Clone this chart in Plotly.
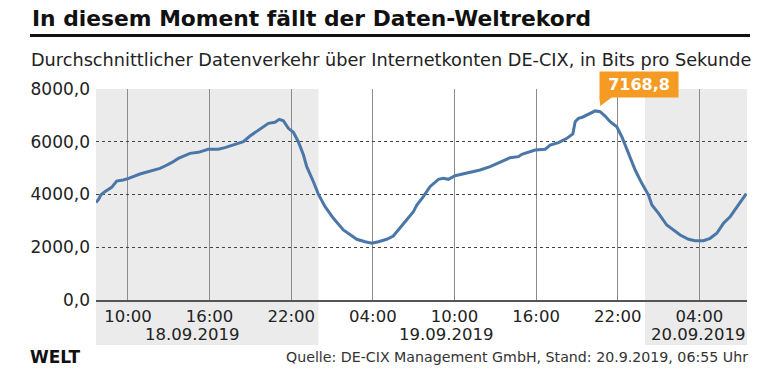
import pandas as pd
import plotly.graph_objects as go

# hours since 18.09.2019 00:00
hours = [7.65, 7.85, 8.0, 8.3, 8.8, 9.17, 9.65, 10.0, 10.88, 11.98, 12.35, 12.72, 13.2, 13.7,
         14.56, 15.17, 15.9, 16.64, 17.13, 17.87, 18.48, 18.97, 19.6, 20.32, 20.8, 21.13,
         21.42, 21.79, 22.16, 22.52, 22.9, 23.14, 23.63, 24.0, 24.49, 25.1, 25.83, 26.32,
         26.82, 27.43, 27.92, 28.4, 29.02, 29.5, 29.87, 30.49, 30.98, 31.23, 31.71, 32.2,
         32.82, 33.18, 33.55, 34.04, 34.65, 35.27, 35.88, 36.62, 37.23, 38.09, 38.7, 38.95,
         39.93, 40.66, 41.03, 41.64, 42.26, 42.7, 42.87, 43.11, 43.4, 43.73, 43.97, 44.35,
         44.7, 45.07, 45.44, 45.93, 46.3, 46.79, 47.28, 47.77, 48.26, 48.51, 49.0, 49.6,
         50.1, 50.59, 51.2, 51.69, 52.3, 52.79, 53.28, 53.77, 54.26, 54.76, 55.37, 55.45]
traffic = [3700, 3820, 3980, 4106, 4272, 4511, 4549, 4600, 4777, 4928, 4992, 5080, 5206, 5370,
           5560, 5599, 5713, 5713, 5775, 5902, 6001, 6217, 6445, 6698, 6736, 6850,
           6797, 6509, 6357, 6001, 5497, 5054, 4485, 4006, 3537, 3097, 2654, 2464,
           2301, 2210, 2149, 2210, 2301, 2426, 2654, 3033, 3350, 3600, 3917, 4296,
           4575, 4613, 4575, 4714, 4777, 4865, 4928, 5054, 5206, 5396, 5434, 5523,
           5687, 5713, 5876, 5964, 6129, 6300, 6761, 6888, 6930, 7013, 7101, 7168.8,
           7139, 6976, 6761, 6570, 6191, 5560, 4928, 4423, 3980, 3601, 3287, 2843,
           2654, 2464, 2301, 2248, 2248, 2339, 2529, 2908, 3158, 3537, 3980, 4030]

x_ticks = ["2019-09-18 10:00", "2019-09-18 16:00", "2019-09-18 22:00", "2019-09-19 04:00",
           "2019-09-19 10:00", "2019-09-19 16:00", "2019-09-19 22:00", "2019-09-20 04:00"]
x_tick_labels = ["10:00", "16:00", "22:00", "04:00", "10:00", "16:00", "22:00", "04:00"]
y_ticks = [0, 2000, 4000, 6000, 8000]
y_tick_labels = ["0,0", "2000,0", "4000,0", "6000,0", "8000,0"]
day_labels = ["18.09.2019", "19.09.2019", "20.09.2019"]
day_label_pos = ["2019-09-18 14:41", "2019-09-19 09:24", "2019-09-20 07:30"]
shaded_days = [("2019-09-18 07:39", "2019-09-19 00:00"), ("2019-09-20 00:00", "2019-09-20 07:30")]
x_range = ["2019-09-18 07:39", "2019-09-20 07:30"]

base = pd.Timestamp("2019-09-18 00:00")
times = [base + pd.Timedelta(hours=h) for h in hours]
peak_i = max(range(len(traffic)), key=lambda i: traffic[i])
peak_t, peak_v = times[peak_i], traffic[peak_i]

FONT = "DejaVu Sans"
fig = go.Figure()
fig.add_trace(go.Scatter(x=times, y=traffic, mode="lines",
                         line=dict(color="#4a77a8", width=3), hoverinfo="skip"))

for x0, x1 in shaded_days:
    fig.add_shape(type="rect", xref="x", yref="paper", x0=x0, x1=x1, y0=-0.213, y1=1,
                  fillcolor="#ebebeb", line_width=0, layer="below")

for lab, pos in zip(day_labels, day_label_pos):
    right = lab == day_labels[-1]
    fig.add_annotation(x=pos, y=-0.163, xref="x", yref="paper", text=lab, showarrow=False,
                       xanchor="right" if right else "center", yanchor="middle",
                       font=dict(family=FONT, size=16.5, color="#222"))

# peak label
fig.add_annotation(x=peak_t, y=peak_v, xref="x", yref="y",
                   text="<b>" + f"{peak_v:.1f}".replace(".", ",") + "</b>",
                   showarrow=False, xanchor="left", yanchor="bottom", xshift=4, yshift=13,
                   bgcolor="#f59a23", font=dict(family=FONT, size=16, color="white"),
                   width=74, height=21, borderpad=2)
fig.add_shape(type="path", xref="x", yref="y", xsizemode="pixel", ysizemode="pixel",
              xanchor=peak_t, yanchor=peak_v, path="M4,14 L17,14 L5,5 Z",
              fillcolor="#f59a23", line_width=0)

# title, rule, subtitle, footer (pixel positions, converted below)
fig.add_annotation(x=30, y=19, xref="paper", yref="paper", text="<b>In diesem Moment fällt der Daten-Weltrekord</b>",
                   showarrow=False, xanchor="left", yanchor="middle",
                   font=dict(family=FONT, size=21.8, color="#111"))
fig.add_annotation(x=29, y=60, xref="paper", yref="paper",
                   text="Durchschnittlicher Datenverkehr über Internetkonten DE-CIX, in Bits pro Sekunde",
                   showarrow=False, xanchor="left", yanchor="middle",
                   font=dict(family=FONT, size=17.7, color="#222"))
fig.add_annotation(x=28, y=357, xref="paper", yref="paper", text="<b>WELT</b>",
                   showarrow=False, xanchor="left", yanchor="middle",
                   font=dict(family=FONT, size=17, color="#111"))
fig.add_annotation(x=750, y=357, xref="paper", yref="paper",
                   text="Quelle: DE-CIX Management GmbH, Stand: 20.9.2019, 06:55 Uhr",
                   showarrow=False, xanchor="right", yanchor="middle",
                   font=dict(family=FONT, size=14.2, color="#333"))

W, H = 780, 373
L, R, T, B = 96, 33, 89, 73
pw, ph = W - L - R, H - T - B
for a in fig.layout.annotations:
    if a.xref == "paper" and a.yref == "paper" and a.x > 2:
        a.x = (a.x - L) / pw
        a.y = (H - B - a.y) / ph
fig.add_shape(type="line", xref="paper", yref="paper", x0=(30 - L) / pw, x1=(750 - L) / pw,
              y0=(H - B - 35.5) / ph, y1=(H - B - 35.5) / ph, line=dict(color="#111", width=3))

fig.update_layout(
    width=W, height=H, margin=dict(l=L, r=R, t=T, b=B),
    paper_bgcolor="white", plot_bgcolor="rgba(0,0,0,0)", showlegend=False,
    xaxis=dict(type="date", range=x_range, tickvals=x_ticks, ticktext=x_tick_labels,
               showgrid=True, gridcolor="#8c8c8c", gridwidth=1, showline=True,
               linecolor="#555", linewidth=1.5, ticks="", zeroline=False,
               tickfont=dict(family=FONT, size=16.5, color="#222")),
    yaxis=dict(range=[0, 8000], tickvals=y_ticks, ticktext=y_tick_labels, showgrid=True,
               gridcolor="#444", griddash="dot", gridwidth=1, zeroline=False, ticks="",
               tickfont=dict(family=FONT, size=17, color="#222"), ticklabelstandoff=5),
)
fig.write_html("out.html", config={"displayModeBar": False},
               post_script="document.body.style.margin='0';")
